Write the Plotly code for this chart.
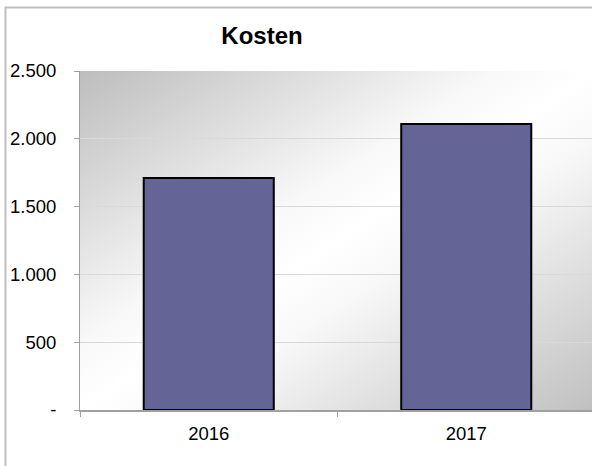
import base64
import plotly.graph_objects as go

# Data
categories = ["2016", "2017"]
values = [1710, 2110]
y_tickvals = [0, 500, 1000, 1500, 2000, 2500]
y_ticktext = ["-", "500", "1.000", "1.500", "2.000", "2.500"]
title_text = "Kosten"

W, H = 595, 466
ML, MT, MB, MR = 80, 71, 56, 0
PW = W - ML - MR
PH = H - MT - MB

svg = (
    '<svg xmlns="http://www.w3.org/2000/svg" width="100" height="100" viewBox="0 0 100 100" preserveAspectRatio="none">'
    '<defs><linearGradient id="g" x1="0" y1="0" x2="1" y2="1">'
    '<stop offset="0" stop-color="#bdbdbd"/>'
    '<stop offset="0.40" stop-color="#f8f8f8"/>'
    '<stop offset="0.5" stop-color="#ffffff"/>'
    '<stop offset="0.60" stop-color="#f8f8f8"/>'
    '<stop offset="1" stop-color="#c0c0c0"/>'
    '</linearGradient></defs>'
    '<rect x="0" y="0" width="100" height="100" fill="url(#g)"/></svg>'
)
svg_uri = "data:image/svg+xml;base64," + base64.b64encode(svg.encode()).decode()

fig = go.Figure()
fig.add_trace(go.Bar(
    x=categories, y=values,
    marker=dict(color="#646496", line=dict(color="#000000", width=2)),
    width=0.505,
    hoverinfo="skip",
))

def px2paper_x(px):
    return (px - ML) / PW

def px2paper_y(py):
    return (H - MB - py) / PH

fig.update_layout(
    width=W, height=H,
    margin=dict(l=ML, r=MR, t=MT, b=MB, pad=0),
    paper_bgcolor="white",
    plot_bgcolor="rgba(0,0,0,0)",
    font=dict(family="Liberation Sans, Arial, sans-serif", size=18.5, color="#000000"),
    showlegend=False,
    title=dict(
        text="<b>" + title_text + "</b>",
        x=262 / W, xanchor="center",
        y=1 - 36 / H, yanchor="middle",
        font=dict(size=24, color="#000000"),
    ),
    images=[dict(
        source=svg_uri, xref="paper", yref="paper",
        x=0, y=1, sizex=1, sizey=1, xanchor="left", yanchor="top",
        sizing="stretch", layer="below",
    )],
    shapes=[
        dict(type="rect", xref="paper", yref="paper",
             x0=px2paper_x(5.5), x1=px2paper_x(640), y0=px2paper_y(7.5), y1=px2paper_y(500),
             line=dict(color="#c0c0c0", width=2), fillcolor="rgba(0,0,0,0)", layer="below"),
    ],
)

fig.update_xaxes(
    type="category",
    showline=True, linecolor="#a0a0a0", linewidth=2,
    ticks="outside", tickson="boundaries", ticklen=5, tickcolor="#a0a0a0",
    showgrid=False, ticklabelstandoff=6,
    tickfont=dict(size=18.5),
)
fig.update_yaxes(
    range=[0, 2500],
    tickvals=y_tickvals, ticktext=y_ticktext,
    showline=True, linecolor="#a0a0a0", linewidth=1,
    ticks="outside", ticklen=5, tickcolor="#a0a0a0",
    showgrid=True, gridcolor="#d9d9d9", gridwidth=1,
    zeroline=False, ticklabelstandoff=14,
    tickfont=dict(size=18.5),
)

fig.write_html(
    "out.html",
    config={"displayModeBar": False},
    post_script="document.body.style.margin='0';document.body.style.overflow='hidden';",
)
